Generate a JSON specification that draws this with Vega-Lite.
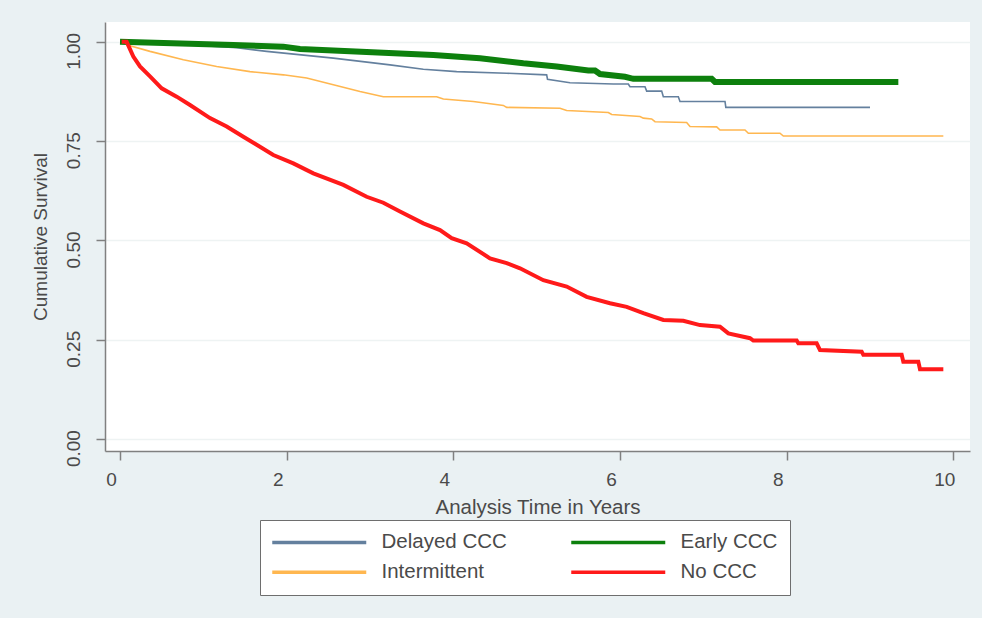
{
  "$schema": "https://vega.github.io/schema/vega-lite/v6.json",
  "autosize": "none",
  "width": 865,
  "height": 429,
  "padding": {"left": 105, "top": 22, "right": 12, "bottom": 167},
  "data": {
    "values": [
      {"g": "Delayed CCC", "t": 0.05, "s": 1.0},
      {"g": "Delayed CCC", "t": 0.8, "s": 0.993},
      {"g": "Delayed CCC", "t": 1.4, "s": 0.985},
      {"g": "Delayed CCC", "t": 1.76, "s": 0.976},
      {"g": "Delayed CCC", "t": 2.56, "s": 0.959},
      {"g": "Delayed CCC", "t": 3.24, "s": 0.942},
      {"g": "Delayed CCC", "t": 3.64, "s": 0.931},
      {"g": "Delayed CCC", "t": 4.04, "s": 0.925},
      {"g": "Delayed CCC", "t": 4.64, "s": 0.921},
      {"g": "Delayed CCC", "t": 5.12, "s": 0.917},
      {"g": "Delayed CCC", "t": 5.13, "s": 0.906},
      {"g": "Delayed CCC", "t": 5.4, "s": 0.897},
      {"g": "Delayed CCC", "t": 5.92, "s": 0.894},
      {"g": "Delayed CCC", "t": 6.1, "s": 0.894},
      {"g": "Delayed CCC", "t": 6.12, "s": 0.887},
      {"g": "Delayed CCC", "t": 6.3, "s": 0.887},
      {"g": "Delayed CCC", "t": 6.32, "s": 0.876},
      {"g": "Delayed CCC", "t": 6.5, "s": 0.876},
      {"g": "Delayed CCC", "t": 6.52, "s": 0.862},
      {"g": "Delayed CCC", "t": 6.7, "s": 0.862},
      {"g": "Delayed CCC", "t": 6.72, "s": 0.85},
      {"g": "Delayed CCC", "t": 7.26, "s": 0.85},
      {"g": "Delayed CCC", "t": 7.27, "s": 0.835},
      {"g": "Delayed CCC", "t": 9.0, "s": 0.835},

      {"g": "Early CCC", "t": 0.0, "s": 1.0},
      {"g": "Early CCC", "t": 1.36, "s": 0.992},
      {"g": "Early CCC", "t": 1.96, "s": 0.988},
      {"g": "Early CCC", "t": 2.16, "s": 0.982},
      {"g": "Early CCC", "t": 3.36, "s": 0.971},
      {"g": "Early CCC", "t": 3.76, "s": 0.967},
      {"g": "Early CCC", "t": 4.32, "s": 0.959},
      {"g": "Early CCC", "t": 4.84, "s": 0.946},
      {"g": "Early CCC", "t": 5.24, "s": 0.938},
      {"g": "Early CCC", "t": 5.62, "s": 0.928},
      {"g": "Early CCC", "t": 5.7, "s": 0.928},
      {"g": "Early CCC", "t": 5.76, "s": 0.919},
      {"g": "Early CCC", "t": 6.06, "s": 0.912},
      {"g": "Early CCC", "t": 6.16, "s": 0.907},
      {"g": "Early CCC", "t": 7.1, "s": 0.907},
      {"g": "Early CCC", "t": 7.14, "s": 0.899},
      {"g": "Early CCC", "t": 9.34, "s": 0.899},

      {"g": "Intermittent", "t": 0.05, "s": 1.0},
      {"g": "Intermittent", "t": 0.12, "s": 0.99},
      {"g": "Intermittent", "t": 0.36, "s": 0.976},
      {"g": "Intermittent", "t": 0.76, "s": 0.955},
      {"g": "Intermittent", "t": 1.16, "s": 0.938},
      {"g": "Intermittent", "t": 1.56, "s": 0.925},
      {"g": "Intermittent", "t": 1.96, "s": 0.917},
      {"g": "Intermittent", "t": 2.24, "s": 0.909},
      {"g": "Intermittent", "t": 2.56, "s": 0.892},
      {"g": "Intermittent", "t": 2.88, "s": 0.875},
      {"g": "Intermittent", "t": 3.16, "s": 0.862},
      {"g": "Intermittent", "t": 3.8, "s": 0.862},
      {"g": "Intermittent", "t": 3.88, "s": 0.856},
      {"g": "Intermittent", "t": 4.24, "s": 0.85},
      {"g": "Intermittent", "t": 4.6, "s": 0.84},
      {"g": "Intermittent", "t": 4.64, "s": 0.835},
      {"g": "Intermittent", "t": 5.28, "s": 0.833},
      {"g": "Intermittent", "t": 5.36, "s": 0.827},
      {"g": "Intermittent", "t": 5.86, "s": 0.822},
      {"g": "Intermittent", "t": 5.9, "s": 0.817},
      {"g": "Intermittent", "t": 6.24, "s": 0.812},
      {"g": "Intermittent", "t": 6.28, "s": 0.808},
      {"g": "Intermittent", "t": 6.38, "s": 0.806},
      {"g": "Intermittent", "t": 6.42, "s": 0.799},
      {"g": "Intermittent", "t": 6.8, "s": 0.797},
      {"g": "Intermittent", "t": 6.84, "s": 0.787},
      {"g": "Intermittent", "t": 7.16, "s": 0.786},
      {"g": "Intermittent", "t": 7.2, "s": 0.778},
      {"g": "Intermittent", "t": 7.5, "s": 0.778},
      {"g": "Intermittent", "t": 7.54, "s": 0.77},
      {"g": "Intermittent", "t": 7.92, "s": 0.77},
      {"g": "Intermittent", "t": 7.96, "s": 0.763},
      {"g": "Intermittent", "t": 9.88, "s": 0.763},

      {"g": "No CCC", "t": 0.02, "s": 1.0},
      {"g": "No CCC", "t": 0.08, "s": 1.0},
      {"g": "No CCC", "t": 0.16, "s": 0.963},
      {"g": "No CCC", "t": 0.24, "s": 0.938},
      {"g": "No CCC", "t": 0.36, "s": 0.913},
      {"g": "No CCC", "t": 0.5, "s": 0.883},
      {"g": "No CCC", "t": 0.68, "s": 0.862},
      {"g": "No CCC", "t": 0.84, "s": 0.841},
      {"g": "No CCC", "t": 1.08, "s": 0.808},
      {"g": "No CCC", "t": 1.28, "s": 0.787},
      {"g": "No CCC", "t": 1.48, "s": 0.761},
      {"g": "No CCC", "t": 1.64, "s": 0.741},
      {"g": "No CCC", "t": 1.84, "s": 0.715},
      {"g": "No CCC", "t": 2.08, "s": 0.694},
      {"g": "No CCC", "t": 2.32, "s": 0.669},
      {"g": "No CCC", "t": 2.68, "s": 0.64},
      {"g": "No CCC", "t": 2.96, "s": 0.61},
      {"g": "No CCC", "t": 3.16, "s": 0.595},
      {"g": "No CCC", "t": 3.36, "s": 0.573},
      {"g": "No CCC", "t": 3.64, "s": 0.543},
      {"g": "No CCC", "t": 3.84, "s": 0.526},
      {"g": "No CCC", "t": 3.98, "s": 0.506},
      {"g": "No CCC", "t": 4.16, "s": 0.493},
      {"g": "No CCC", "t": 4.44, "s": 0.455},
      {"g": "No CCC", "t": 4.64, "s": 0.443},
      {"g": "No CCC", "t": 4.8, "s": 0.43},
      {"g": "No CCC", "t": 5.08, "s": 0.4},
      {"g": "No CCC", "t": 5.36, "s": 0.384},
      {"g": "No CCC", "t": 5.6, "s": 0.358},
      {"g": "No CCC", "t": 5.88, "s": 0.342},
      {"g": "No CCC", "t": 6.08, "s": 0.333},
      {"g": "No CCC", "t": 6.28, "s": 0.317},
      {"g": "No CCC", "t": 6.52, "s": 0.3},
      {"g": "No CCC", "t": 6.76, "s": 0.298},
      {"g": "No CCC", "t": 6.96, "s": 0.287},
      {"g": "No CCC", "t": 7.2, "s": 0.283},
      {"g": "No CCC", "t": 7.3, "s": 0.266},
      {"g": "No CCC", "t": 7.56, "s": 0.254},
      {"g": "No CCC", "t": 7.6, "s": 0.248},
      {"g": "No CCC", "t": 8.12, "s": 0.248},
      {"g": "No CCC", "t": 8.14, "s": 0.241},
      {"g": "No CCC", "t": 8.36, "s": 0.241},
      {"g": "No CCC", "t": 8.4, "s": 0.224},
      {"g": "No CCC", "t": 8.9, "s": 0.22},
      {"g": "No CCC", "t": 8.92, "s": 0.212},
      {"g": "No CCC", "t": 9.38, "s": 0.212},
      {"g": "No CCC", "t": 9.4, "s": 0.195},
      {"g": "No CCC", "t": 9.58, "s": 0.195},
      {"g": "No CCC", "t": 9.6, "s": 0.176},
      {"g": "No CCC", "t": 9.88, "s": 0.176}
    ]
  },
  "mark": {"type": "line", "interpolate": "linear", "strokeJoin": "miter", "strokeCap": "butt"},
  "encoding": {
    "x": {
      "field": "t", "type": "quantitative",
      "scale": {"domain": [-0.18, 10.2], "nice": false, "zero": false},
      "axis": {
        "values": [0, 2, 4, 6, 8, 10],
        "title": "Analysis Time in Years",
        "grid": false,
        "labelOffset": -9,
        "labelPadding": 10,
        "titlePadding": 8,
        "titleFontSize": 20.5
      }
    },
    "y": {
      "field": "s", "type": "quantitative",
      "scale": {"domain": [-0.03, 1.05], "nice": false, "zero": false},
      "axis": {
        "values": [0, 0.25, 0.5, 0.75, 1],
        "format": ".2f",
        "title": "Cumulative Survival",
        "grid": true,
        "gridColor": "#eef3f3",
        "gridWidth": 1.5,
        "labelAngle": 270,
        "labelAlign": "center",
        "labelBaseline": "bottom",
        "labelOffset": 9,
        "labelPadding": 13,
        "titlePadding": 14
      }
    },
    "color": {
      "field": "g", "type": "nominal",
      "scale": {
        "domain": ["Delayed CCC", "Early CCC", "Intermittent", "No CCC"],
        "range": ["#64809e", "#0d800d", "#ffb750", "#ff1a1a"]
      },
      "legend": {
        "title": null,
        "orient": "none",
        "direction": "horizontal",
        "legendX": 155,
        "legendY": 498,
        "columns": 2,
        "gridAlign": "all",
        "columnPadding": 57,
        "rowPadding": 9,
        "padding": 12,
        "strokeColor": "#6e6e6e",
        "fillColor": "white",
        "symbolType": "M-5.875,0L5.875,0",
        "symbolSize": 256,
        "symbolStrokeWidth": 3.5,
        "symbolOffset": 37,
        "labelFontSize": 20.5,
        "labelColor": "#4a4a4a",
        "labelOffset": 52,
        "labelFont": "Liberation Sans"
      }
    },
    "strokeWidth": {
      "condition": [
        {"test": "datum.g === 'Early CCC'", "value": 6},
        {"test": "datum.g === 'No CCC'", "value": 4}
      ],
      "value": 1.6
    }
  },
  "config": {
    "background": "#eaf1f3",
    "font": "Liberation Sans",
    "view": {"fill": "white", "stroke": null},
    "axis": {
      "domainColor": "#808080",
      "domainWidth": 1.5,
      "tickColor": "#808080",
      "tickWidth": 1.5,
      "tickSize": 9,
      "labelFontSize": 19,
      "labelColor": "#4a4a4a",
      "labelFont": "Liberation Sans",
      "titleFont": "Liberation Sans",
      "titleFontSize": 19,
      "titleColor": "#4a4a4a",
      "titleFontWeight": "normal",
      "labelFlush": false,
      "labelOverlap": false
    }
  }
}
